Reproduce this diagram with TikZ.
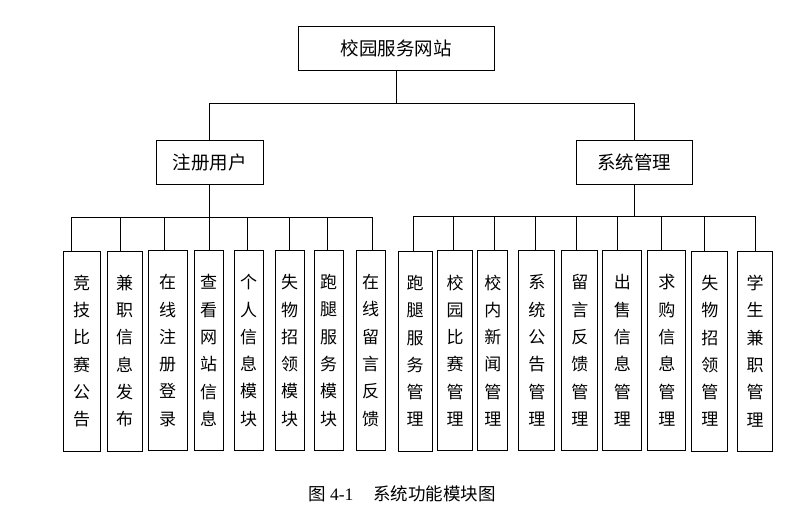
\documentclass[tikz,border=0pt]{standalone}
\usepackage{fontspec}
\setmainfont{Liberation Serif}
\newfontfamily\cjk{Noto Sans CJK SC}
\usetikzlibrary{calc}

\tikzset{
  box/.style={draw, line width=1pt, minimum height=44, inner sep=0pt, font=\cjk\fontsize{18.5pt}{20pt}\selectfont},
  leaf/.style={draw, line width=1pt, minimum height=200, inner sep=0pt, align=center, font=\cjk\fontsize{17pt}{27.3pt}\selectfont},
  link/.style={line width=0.9pt},
}

\begin{document}
\begin{tikzpicture}[x=1pt, y=-1pt]
        \useasboundingbox (0,0) rectangle (788,507);
        % Draw the top levels
        \node[box, minimum width=196] (root) at (396,48) {校园服务网站};
        \node[box, minimum width=107] (user) at (209.5,162) {注册用户};
        \node[box, minimum width=116] (admin) at (634,162) {系统管理};
        \draw[link] (root.south) -- ++(0,33) coordinate (j0);
        \draw[link] (user.north) |- (j0) -| (admin.north);
        % Draw the user modules
        \node[leaf, minimum width=37] (u1) at (81.5,351) {竞\\技\\比\\赛\\公\\告};
        \node[leaf, minimum width=35] (u2) at (124.5,351) {兼\\职\\信\\息\\发\\布};
        \node[leaf, minimum width=39] (u3) at (167.5,350.5) {在\\线\\注\\册\\登\\录};
        \node[leaf, minimum width=29] (u4) at (208.5,350.5) {查\\看\\网\\站\\信\\息};
        \node[leaf, minimum width=29] (u5) at (248.5,350.5) {个\\人\\信\\息\\模\\块};
        \node[leaf, minimum width=29] (u6) at (289.5,350.5) {失\\物\\招\\领\\模\\块};
        \node[leaf, minimum width=29] (u7) at (328.5,350.5) {跑\\腿\\服\\务\\模\\块};
        \node[leaf, minimum width=29] (u8) at (370.5,350.5) {在\\线\\留\\言\\反\\馈};
        % Draw the admin modules
        \node[leaf, minimum width=34] (a1) at (415,351) {跑\\腿\\服\\务\\管\\理};
        \node[leaf, minimum width=35] (a2) at (455.2,350.5) {校\\园\\比\\赛\\管\\理};
        \node[leaf, minimum width=30] (a3) at (492.8,350.5) {校\\内\\新\\闻\\管\\理};
        \node[leaf, minimum width=36] (a4) at (536.8,350.5) {系\\统\\公\\告\\管\\理};
        \node[leaf, minimum width=36] (a5) at (579.8,350.5) {留\\言\\反\\馈\\管\\理};
        \node[leaf, minimum width=39] (a6) at (622.3,350.5) {出\\售\\信\\息\\管\\理};
        \node[leaf, minimum width=38] (a7) at (666.8,350.5) {求\\购\\信\\息\\管\\理};
        \node[leaf, minimum width=36] (a8) at (709.8,351) {失\\物\\招\\领\\管\\理};
        \node[leaf, minimum width=35] (a9) at (755,351) {学\\生\\兼\\职\\管\\理};
        % Bus points
        \coordinate (pu1) at (71,217);  \coordinate (pu2) at (120,217);
        \coordinate (pu3) at (164,217); \coordinate (pu4) at (209,217);
        \coordinate (pu5) at (247,217); \coordinate (pu6) at (289,217);
        \coordinate (pu7) at (327,217); \coordinate (pu8) at (372,217);
        \coordinate (pa1) at (413,216); \coordinate (pa2) at (453,216);
        \coordinate (pa3) at (494,216); \coordinate (pa4) at (535,216);
        \coordinate (pa5) at (576,216); \coordinate (pa6) at (617,216);
        \coordinate (pa7) at (661,216); \coordinate (pa8) at (704,216);
        \coordinate (pa9) at (755,216);
        % Connectors
        \draw[link] (user.south) -- (user.south |- pu1);
        \draw[link] (admin.south) -- (admin.south |- pa1);
        \draw[link] (pu1) -- (pu8);
        \draw[link] (pa1) -- (pa9);
        \draw[link] (pu1) -- (pu1 |- u1.north);
        \draw[link] (pu2) -- (pu2 |- u2.north);
        \draw[link] (pu3) -- (pu3 |- u3.north);
        \draw[link] (pu4) -- (pu4 |- u4.north);
        \draw[link] (pu5) -- (pu5 |- u5.north);
        \draw[link] (pu6) -- (pu6 |- u6.north);
        \draw[link] (pu7) -- (pu7 |- u7.north);
        \draw[link] (pu8) -- (pu8 |- u8.north);
        \draw[link] (pa1) -- (pa1 |- a1.north);
        \draw[link] (pa2) -- (pa2 |- a2.north);
        \draw[link] (pa3) -- (pa3 |- a3.north);
        \draw[link] (pa4) -- (pa4 |- a4.north);
        \draw[link] (pa5) -- (pa5 |- a5.north);
        \draw[link] (pa6) -- (pa6 |- a6.north);
        \draw[link] (pa7) -- (pa7 |- a7.north);
        \draw[link] (pa8) -- (pa8 |- a8.north);
        \draw[link] (pa9) -- (pa9 |- a9.north);
        % Caption
        \node[font=\fontsize{17.5pt}{19pt}\selectfont] (cap) at (402,494) {{\cjk 图} 4-1\hspace{20pt}{\cjk 系统功能模块图}};
      \end{tikzpicture}
\end{document}
